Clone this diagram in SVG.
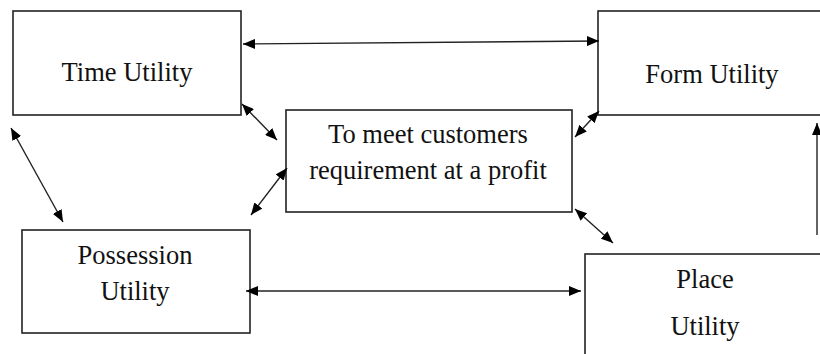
<svg xmlns="http://www.w3.org/2000/svg" width="820" height="354" viewBox="0 0 820 354">
<defs>
<marker id="ah" viewBox="0 0 12 10" refX="12" refY="5" markerWidth="12" markerHeight="10" markerUnits="userSpaceOnUse" orient="auto-start-reverse">
<path d="M0,0 L12,5 L0,10 z" fill="#000"/>
</marker>
<style>
.box{fill:#fff;stroke:#222;stroke-width:1.6}
.lbl{font-family:"Liberation Serif","Times New Roman",serif;font-size:26.5px;fill:#111;text-anchor:middle}
.c{stroke:#222;stroke-width:1.4;fill:none;marker-start:url(#ah);marker-end:url(#ah)}
.c1{stroke:#222;stroke-width:1.4;fill:none;marker-end:url(#ah)}
</style>
</defs>
<rect width="820" height="354" fill="#fff"/>
<g id="time">
<rect class="box" x="13" y="11" width="228" height="104"/>
<text class="lbl" x="127" y="81">Time Utility</text>
</g>
<g id="form">
<rect class="box" x="598" y="11" width="230" height="104"/>
<text class="lbl" x="712" y="83">Form Utility</text>
</g>
<g id="center">
<rect class="box" x="286" y="110" width="286" height="102"/>
<text class="lbl" x="428" y="143">To meet customers</text>
<text class="lbl" x="428" y="179">requirement at a profit</text>
</g>
<g id="possession">
<rect class="box" x="22" y="230" width="228" height="103"/>
<text class="lbl" x="135" y="264">Possession</text>
<text class="lbl" x="135" y="300">Utility</text>
</g>
<g id="place">
<rect class="box" x="585" y="254" width="245" height="110"/>
<text class="lbl" x="705" y="288">Place</text>
<text class="lbl" x="705" y="335">Utility</text>
</g>
<g id="connectors">
<line class="c" x1="243" y1="44" x2="599" y2="41"/>
<line class="c" x1="246" y1="291" x2="581" y2="291"/>
<line class="c" x1="242" y1="104" x2="277" y2="140"/>
<line class="c" x1="287" y1="168" x2="251" y2="215"/>
<line class="c" x1="11" y1="128" x2="63" y2="222"/>
<line class="c" x1="599" y1="111" x2="575" y2="137"/>
<line class="c" x1="575" y1="209" x2="613" y2="243"/>
<line class="c1" x1="817" y1="235" x2="817" y2="123"/>
</g>
</svg>
